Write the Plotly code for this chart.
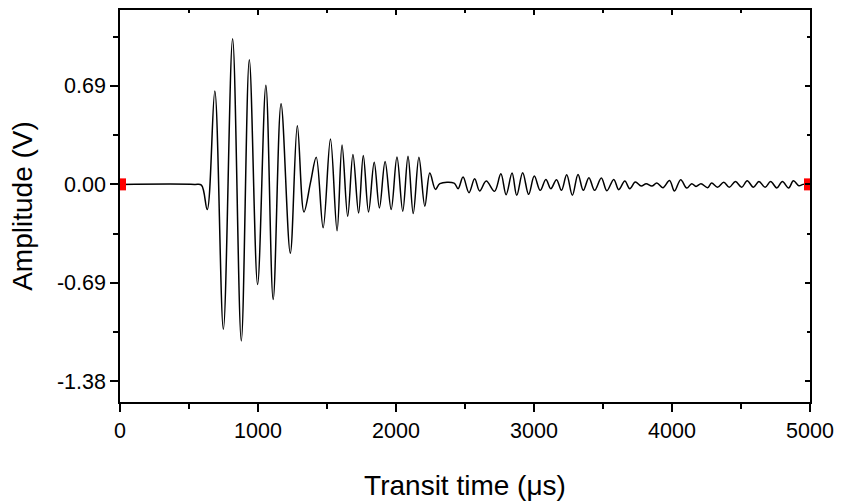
import plotly.graph_objects as go

# Ultrasonic pulse waveform: turning points (peaks / troughs) of the received signal
time_us = [
    0, 540, 590, 632, 687, 749, 816, 879, 937, 997, 1057, 1110, 1167, 1234, 1285,
    1333, 1381, 1422, 1472, 1525, 1573, 1609, 1650, 1688, 1729, 1763, 1801, 1842,
    1880, 1921, 1965, 2007, 2049, 2087, 2125, 2166, 2209, 2245, 2286, 2318, 2421,
    2450, 2486, 2529, 2570, 2606, 2654, 2714, 2760, 2798, 2841, 2875, 2918, 2961,
    3002, 3045, 3086, 3122, 3163, 3199, 3237, 3278, 3319, 3357, 3398, 3439, 3488,
    3528, 3578, 3614, 3658, 3694, 3734, 3777, 3813, 3854, 3890, 3934, 3982, 4018,
    4063, 4107, 4143, 4174, 4210, 4258, 4287, 4330, 4375, 4415, 4460, 4505, 4545,
    4590, 4630, 4675, 4715, 4760, 4800, 4845, 4880, 4920, 4950, 5000,
]
amplitude_v = [
    0.0, 0.0, -0.005, -0.176, 0.654, -1.015, 1.020, -1.097, 0.874, -0.702, 0.695,
    -0.807, 0.565, -0.482, 0.410, -0.193, 0.016, 0.190, -0.304, 0.318, -0.325,
    0.276, -0.223, 0.209, -0.200, 0.202, -0.193, 0.155, -0.165, 0.160, -0.176,
    0.192, -0.188, 0.197, -0.204, 0.190, -0.153, 0.079, -0.035, 0.005, 0.009,
    -0.030, 0.051, -0.058, 0.040, -0.046, 0.023, -0.049, 0.074, -0.072, 0.079,
    -0.077, 0.081, -0.070, 0.058, -0.042, 0.035, -0.030, 0.033, -0.042, 0.067,
    -0.077, 0.070, -0.042, 0.047, -0.042, 0.045, -0.044, 0.035, -0.037, 0.023,
    -0.030, 0.016, -0.012, 0.005, -0.012, 0.009, -0.023, 0.028, -0.046, 0.033,
    -0.026, 0.005, -0.014, 0.005, -0.023, 0.009, -0.020, 0.015, -0.020, 0.020,
    -0.020, 0.025, -0.020, 0.020, -0.020, 0.020, -0.025, 0.020, -0.025, 0.025,
    -0.010, 0.0, 0.0,
]

# Window markers at the start and end of the record
marker_time_us = [0, 5000]
marker_amp_v = [0.0, 0.0]

y_tickvals = [-1.38, -0.69, 0.0, 0.69]
y_ticktext = ["-1.38", "-0.69", "0.00", "0.69"]
y_minor = [-1.035, -0.345, 0.345, 1.035]
x_tickvals = [0, 1000, 2000, 3000, 4000, 5000]
x_minor = [500, 1500, 2500, 3500, 4500]

X_RANGE = [0, 5000]
Y_RANGE = [-1.525, 1.222]
FONT = "Liberation Sans, Arial, sans-serif"

fig = go.Figure()
fig.add_trace(go.Scatter(
    x=time_us, y=amplitude_v, mode="lines",
    line=dict(color="black", width=1.5, shape="spline", smoothing=1.0),
    hoverinfo="skip", showlegend=False,
))
fig.add_trace(go.Scatter(
    x=marker_time_us, y=marker_amp_v, mode="markers",
    marker=dict(symbol="square", size=12, color="#ff0000"),
    showlegend=False, cliponaxis=True, hoverinfo="skip",
))
# empty trace that anchors the top/right tick axes
fig.add_trace(go.Scatter(
    x=[None], y=[None], xaxis="x2", yaxis="y2", mode="lines",
    showlegend=False, hoverinfo="skip",
))

axis_common = dict(
    showline=True, linecolor="black", linewidth=1.5, mirror=True,
    ticks="outside", tickcolor="black", tickwidth=1.5, ticklen=8,
    showgrid=False, zeroline=False,
    tickfont=dict(family=FONT, size=21.5, color="black"),
)

fig.update_layout(
    xaxis=dict(
        range=X_RANGE, tickvals=x_tickvals,
        minor=dict(ticks="outside", tickvals=x_minor, ticklen=5,
                   tickwidth=1.5, tickcolor="black"),
        title=dict(text="Transit time (μs)",
                   font=dict(family=FONT, size=28, color="black"), standoff=34),
        **axis_common,
    ),
    yaxis=dict(
        range=Y_RANGE, tickvals=y_tickvals, ticktext=y_ticktext,
        minor=dict(ticks="outside", tickvals=y_minor, ticklen=5,
                   tickwidth=1.5, tickcolor="black"),
        title=dict(text="Amplitude (V)",
                   font=dict(family=FONT, size=28, color="black"), standoff=16),
        **axis_common,
    ),
    xaxis2=dict(
        overlaying="x", side="top", range=X_RANGE, tickvals=x_tickvals,
        ticks="inside", ticklen=5, tickwidth=1.5, tickcolor="black",
        minor=dict(ticks="inside", tickvals=x_minor, ticklen=3,
                   tickwidth=1.5, tickcolor="black"),
        showticklabels=False, showgrid=False, zeroline=False, showline=False,
    ),
    yaxis2=dict(
        overlaying="y", side="right", range=Y_RANGE, tickvals=y_tickvals,
        ticks="inside", ticklen=5, tickwidth=1.5, tickcolor="black",
        minor=dict(ticks="inside", tickvals=y_minor, ticklen=3,
                   tickwidth=1.5, tickcolor="black"),
        showticklabels=False, showgrid=False, zeroline=False, showline=False,
    ),
    width=842, height=504,
    margin=dict(l=120, r=28, t=8, b=101),
    paper_bgcolor="white", plot_bgcolor="white",
)

fig.write_html("out.html")
